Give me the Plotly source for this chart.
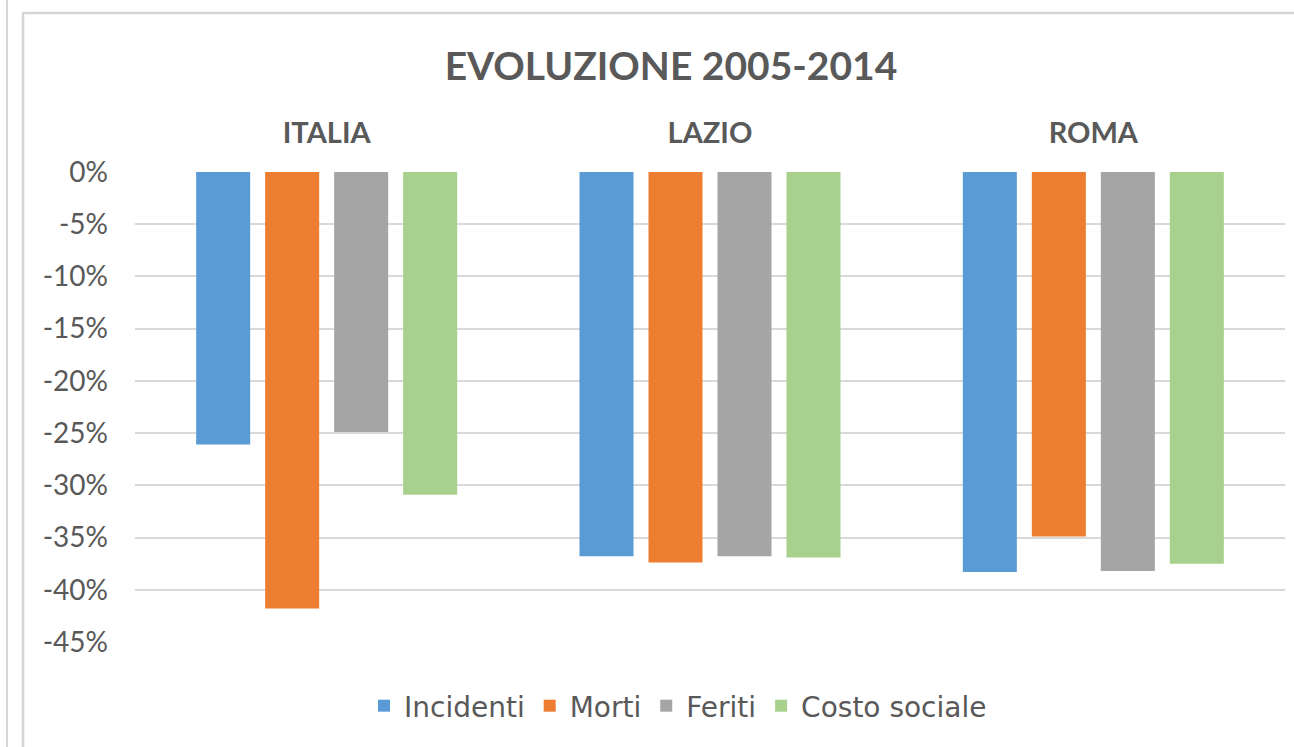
import plotly.graph_objects as go

# Data (change 2005-2014)
categories = ['ITALIA', 'LAZIO', 'ROMA']
incidenti = [-0.261, -0.368, -0.383]
morti = [-0.418, -0.374, -0.349]
feriti = [-0.249, -0.368, -0.382]
costo_sociale = [-0.309, -0.369, -0.375]

y_ticks = [0, -0.05, -0.10, -0.15, -0.20, -0.25, -0.30, -0.35, -0.40, -0.45]
y_tick_labels = ['0%', '-5%', '-10%', '-15%', '-20%', '-25%', '-30%', '-35%', '-40%', '-45%']

series = [
    ('Incidenti', incidenti, '#5B9BD5'),
    ('Morti', morti, '#ED7D31'),
    ('Feriti', feriti, '#A5A5A5'),
    ('Costo sociale', costo_sociale, '#A9D18E'),
]

FONT = 'Lato'
LEGEND_FONT = 'DejaVu Sans'
TEXT = '#595959'
W, H = 1294, 747
L, R, T, B = 135, 9, 172, 105

fig = go.Figure()
for name, vals, color in series:
    fig.add_trace(go.Bar(x=categories, y=vals, name=name,
                         marker=dict(color=color, line=dict(width=0))))


def px_x(p):
    return (p - L) / (W - L - R)


def px_y(p):
    return 1 - (p - T) / (H - T - B)


# frame lines of the spreadsheet chart area
frame = '#d6d6d6'
fig.add_shape(type='line', xref='paper', yref='paper',
              x0=px_x(7), x1=px_x(7), y0=px_y(-5), y1=px_y(760),
              line=dict(color=frame, width=2))
fig.add_shape(type='line', xref='paper', yref='paper',
              x0=px_x(23), x1=px_x(23), y0=px_y(13), y1=px_y(760),
              line=dict(color=frame, width=2.5))
fig.add_shape(type='line', xref='paper', yref='paper',
              x0=px_x(22), x1=px_x(1300), y0=px_y(13), y1=px_y(13),
              line=dict(color=frame, width=2.5))

fig.update_layout(
    width=W, height=H,
    margin=dict(l=L, r=R, t=T, b=B, autoexpand=False),
    paper_bgcolor='white', plot_bgcolor='white',
    font=dict(family=FONT, color=TEXT),
    title=dict(text='<b>EVOLUZIONE 2005-2014</b>', x=671 / W, xanchor='center',
               y=1 - 66 / H, yanchor='middle',
               font=dict(family=FONT, size=39, color=TEXT)),
    barmode='group', bargap=0.28, bargroupgap=0.217,
    showlegend=True,
    legend=dict(orientation='h', x=px_x(678), xanchor='center',
                y=px_y(706), yanchor='middle',
                font=dict(family=LEGEND_FONT, size=28, color=TEXT),
                itemwidth=30, tracegroupgap=0),
    xaxis=dict(side='top', tickfont=dict(family=FONT, size=29, color=TEXT),
               tickvals=categories,
               ticktext=['<b>%s</b>' % c for c in categories],
               showgrid=False, showline=False, ticks='',
               ticklabelstandoff=22),
    yaxis=dict(range=[-0.45, 0], tickvals=y_ticks, ticktext=y_tick_labels,
               tickfont=dict(family=FONT, size=28, color=TEXT),
               showgrid=True, gridcolor='#d9d9d9', gridwidth=1.5,
               zeroline=False, showline=False, ticks='',
               ticklabelstandoff=26),
)

# the page body has a default 8px margin; drop it so the figure fills the window
fig.write_html('out.html', config={'displayModeBar': False},
               post_script="document.body.style.margin='0';")
